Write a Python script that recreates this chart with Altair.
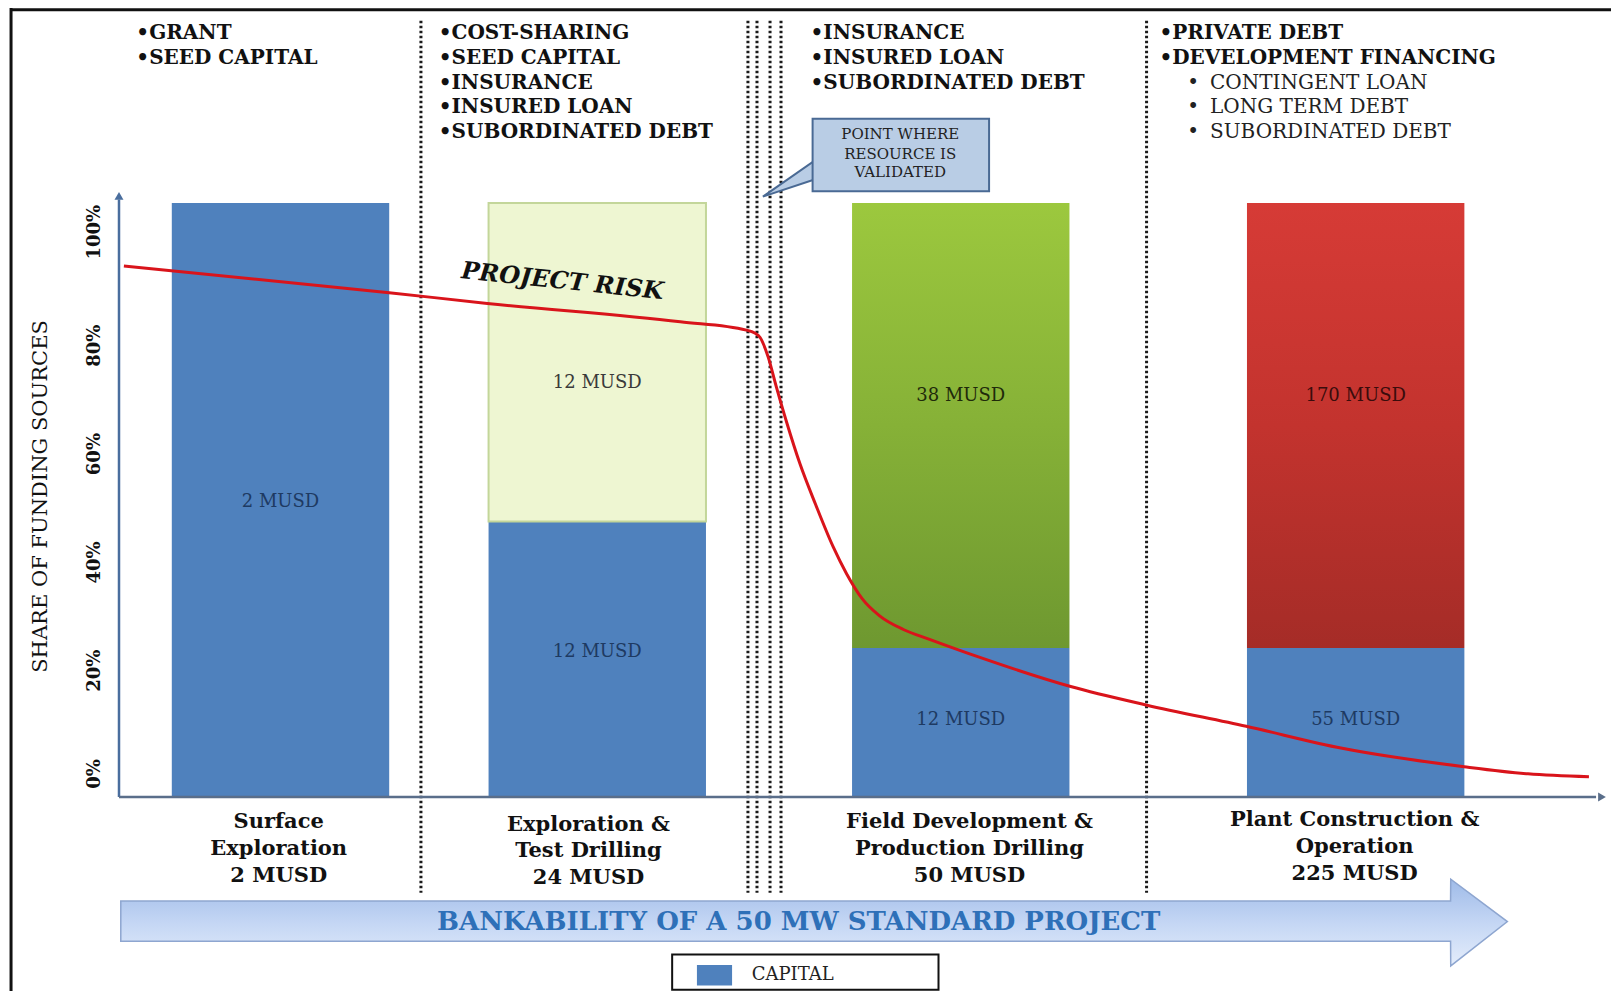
import altair as alt
import pandas as pd

# ---------------- data ----------------
stage_lines = [
    ["Surface", "Exploration", "2 MUSD"],
    ["Exploration &", "Test Drilling", "24 MUSD"],
    ["Field Development &", "Production Drilling", "50 MUSD"],
    ["Plant Construction &", "Operation", "225 MUSD"],
]
capital_share = [100.0, 46.4, 25.1, 25.1]      # % of funding that is capital
total_share = [100.0, 100.0, 100.0, 100.0]
capital_musd = ["2 MUSD", "12 MUSD", "12 MUSD", "55 MUSD"]
other_musd = ["", "12 MUSD", "38 MUSD", "170 MUSD"]

funding_bold = [
    ["GRANT", "SEED CAPITAL"],
    ["COST-SHARING", "SEED CAPITAL", "INSURANCE", "INSURED LOAN", "SUBORDINATED DEBT"],
    ["INSURANCE", "INSURED LOAN", "SUBORDINATED DEBT"],
    ["PRIVATE DEBT", "DEVELOPMENT FINANCING"],
]
funding_sub = ["CONTINGENT LOAN", "LONG TERM DEBT", "SUBORDINATED DEBT"]

risk_progress = [0.33, 18.22, 24.84, 37.85, 42.31, 42.87, 43.22, 43.77, 44.33, 45.03,
                 45.93, 46.98, 48.16, 49.06, 50.11, 51.29, 52.89, 54.70, 58.05, 64.17,
                 69.25, 76.01, 82.48, 90.70, 95.01, 99.12]
risk_level = [89.4, 84.9, 83.1, 80.0, 78.6, 78.1, 77.4, 74.1, 69.0, 63.0,
              56.0, 49.2, 42.1, 37.6, 33.4, 30.5, 28.2, 26.5, 23.5, 18.6,
              15.5, 11.9, 8.2, 5.1, 3.9, 3.4]

y_tick_text = ["0%", "20%", "40%", "60%", "80%", "100%"]
callout_lines = ["POINT WHERE", "RESOURCE IS", "VALIDATED"]
banner_text = "BANKABILITY OF A 50 MW STANDARD PROJECT"
risk_text = "PROJECT RISK"
y_title = "SHARE OF FUNDING SOURCES"
legend_text = "CAPITAL"

# ---------------- layout (positions in chart units) ----------------
X_DOMAIN = [-7.485, 100.607]
Y_DOMAIN = [-32.66, 132.83]
bar_center = [10.89, 32.25, 56.76, 83.39]
bar_half_width = 7.33
capital_label_y = [49.6, 24.4, 12.9, 12.9]
other_label_y = [0, 69.7, 67.5, 67.5]
stage_label_x = [10.77, 31.66, 57.35, 83.32]
stage_label_top = [-4.29, -4.64, -4.29, -3.94]
stage_line_gap = 4.52
list_col_x = [1.17, 21.56, 46.63, 70.16]
sub_bullet_x = 72.04
sub_text_x = 73.57
list_row_y = [128.62, 124.45, 120.28, 116.11, 111.94]
divider_x = [20.36, 42.41, 43.02, 43.90, 44.64, 69.29]
divider_span = [130.7, -16.1]
y_tick_pos = [3.87, 21.25, 39.50, 57.73, 75.98, 95.09]
FONT = "DejaVu Serif"

xs = alt.Scale(domain=X_DOMAIN, nice=False, zero=False)
ys = alt.Scale(domain=Y_DOMAIN, nice=False, zero=False)


def X(f):
    return alt.X(f, type="quantitative", scale=xs, axis=None)


def Y(f):
    return alt.Y(f, type="quantitative", scale=ys, axis=None)


def grad(c0, c1, c2=None):
    stops = [alt.GradientStop(color=c0, offset=0)]
    if c2 is not None:
        stops.append(alt.GradientStop(color=c1, offset=0.5))
        stops.append(alt.GradientStop(color=c2, offset=1))
    else:
        stops.append(alt.GradientStop(color=c1, offset=1))
    return alt.LinearGradient(gradient="linear", stops=stops, x1=0, x2=0, y1=0, y2=1)


layers = []

# outer frame
frame_v = pd.DataFrame({"x": [-7.28], "y": [Y_DOMAIN[0]], "y2": [Y_DOMAIN[1]]})
layers.append(alt.Chart(frame_v).mark_rule(color="#111", strokeWidth=3).encode(
    x=X("x"), y=Y("y"), y2="y2"))
frame_h = pd.DataFrame({"x": [-7.28], "x2": [X_DOMAIN[1]], "y": [132.55]})
layers.append(alt.Chart(frame_h).mark_rule(color="#111", strokeWidth=3).encode(
    x=X("x"), x2="x2", y=Y("y")))

# dotted dividers
div_df = pd.DataFrame({"x": divider_x, "y": [divider_span[0]] * len(divider_x),
                       "y2": [divider_span[1]] * len(divider_x)})
layers.append(alt.Chart(div_df).mark_rule(color="#1a1a1a", strokeWidth=3, strokeDash=[2.5, 2.5]).encode(
    x=X("x"), y=Y("y"), y2="y2"))

# bars
xl = [c - bar_half_width for c in bar_center]
xr = [c + bar_half_width for c in bar_center]
cap_df = pd.DataFrame({"x": xl, "x2": xr, "y": [0.0] * 4, "y2": capital_share})
layers.append(alt.Chart(cap_df).mark_rect(color="#4F81BD").encode(
    x=X("x"), x2="x2", y=Y("y"), y2="y2"))

oth = pd.DataFrame({"x": xl, "x2": xr, "y": capital_share, "y2": total_share})
layers.append(alt.Chart(oth.iloc[[1]]).mark_rect(color="#EEF6D2", stroke="#C3D69A", strokeWidth=2).encode(
    x=X("x"), x2="x2", y=Y("y"), y2="y2"))
layers.append(alt.Chart(oth.iloc[[2]]).mark_rect(color=grad("#9CC83E", "#86B137", "#6E9830")).encode(
    x=X("x"), x2="x2", y=Y("y"), y2="y2"))
layers.append(alt.Chart(oth.iloc[[3]]).mark_rect(color=grad("#D63B36", "#C3332E", "#A52C27")).encode(
    x=X("x"), x2="x2", y=Y("y"), y2="y2"))

# axis lines with arrowheads
layers.append(alt.Chart(pd.DataFrame({"x": [0.0], "y": [0.0], "y2": [100.6]})).mark_rule(
    color="#4A6E9E", strokeWidth=2.5).encode(x=X("x"), y=Y("y"), y2="y2"))
layers.append(alt.Chart(pd.DataFrame({"x": [0.0], "x2": [99.6], "y": [0.0]})).mark_rule(
    color="#5A6E8A", strokeWidth=2.5).encode(x=X("x"), x2="x2", y=Y("y")))
layers.append(alt.Chart(pd.DataFrame({"x": [0.0], "y": [101.2]})).mark_point(
    shape="triangle-up", filled=True, size=80, color="#4A6E9E", opacity=1).encode(x=X("x"), y=Y("y")))
layers.append(alt.Chart(pd.DataFrame({"x": [100.0], "y": [0.0]})).mark_point(
    shape="triangle-right", filled=True, size=80, color="#5A6E8A", opacity=1).encode(x=X("x"), y=Y("y")))

# bar value labels
cap_lab = pd.DataFrame({"x": bar_center, "y": capital_label_y, "t": capital_musd})
layers.append(alt.Chart(cap_lab).mark_text(font=FONT, fontSize=18, color="#1E3A62", baseline="middle").encode(
    x=X("x"), y=Y("y"), text="t:N"))
oth_lab = pd.DataFrame({"x": bar_center, "y": other_label_y, "t": other_musd,
                        "c": ["#000", "#3A3A3A", "#1F2A0A", "#3A0C0C"]}).iloc[1:]
layers.append(alt.Chart(oth_lab).mark_text(font=FONT, fontSize=18, baseline="middle").encode(
    x=X("x"), y=Y("y"), text="t:N", color=alt.Color("c:N", scale=None)))

# risk curve
risk_df = pd.DataFrame({"x": risk_progress, "y": risk_level})
layers.append(alt.Chart(risk_df).mark_line(color="#D9141B", strokeWidth=3, interpolate="monotone").encode(
    x=X("x"), y=Y("y")))
layers.append(alt.Chart(pd.DataFrame({"x": [29.9], "y": [86.75], "t": [risk_text]})).mark_text(
    font=FONT, fontSize=24, fontWeight="bold", fontStyle="italic", color="#111", angle=6,
    baseline="middle").encode(x=X("x"), y=Y("y"), text="t:N"))

# funding source lists
rows_b = []
for ci, items in enumerate(funding_bold):
    for ri, it in enumerate(items):
        rows_b.append({"x": list_col_x[ci], "y": list_row_y[ri], "t": "\u2022" + it})
layers.append(alt.Chart(pd.DataFrame(rows_b)).mark_text(
    font=FONT, fontSize=20, fontWeight="bold", color="#111", align="left", baseline="middle").encode(
    x=X("x"), y=Y("y"), text="t:N"))
rows_s = []
for ri, it in enumerate(funding_sub):
    rows_s.append({"x": sub_text_x, "y": list_row_y[ri + 2], "t": it})
layers.append(alt.Chart(pd.DataFrame(rows_s)).mark_text(
    font=FONT, fontSize=20, color="#222", align="left", baseline="middle").encode(
    x=X("x"), y=Y("y"), text="t:N"))
bul_s = pd.DataFrame({"x": [sub_bullet_x] * 3, "y": list_row_y[2:5], "t": ["\u2022"] * 3})
layers.append(alt.Chart(bul_s).mark_text(
    font=FONT, fontSize=20, color="#222", align="left", baseline="middle").encode(
    x=X("x"), y=Y("y"), text="t:N"))

# stage labels
rows_st = []
for si, lines in enumerate(stage_lines):
    for li, ln in enumerate(lines):
        rows_st.append({"x": stage_label_x[si], "y": stage_label_top[si] - li * stage_line_gap, "t": ln})
layers.append(alt.Chart(pd.DataFrame(rows_st)).mark_text(
    font=FONT, fontSize=21, fontWeight="bold", color="#111", baseline="middle").encode(
    x=X("x"), y=Y("y"), text="t:N"))

# y-axis tick labels and title
tick_df = pd.DataFrame({"x": [-1.62] * 6, "y": y_tick_pos, "t": y_tick_text})
layers.append(alt.Chart(tick_df).mark_text(
    font=FONT, fontSize=18, fontWeight="bold", color="#111", angle=270, baseline="middle").encode(
    x=X("x"), y=Y("y"), text="t:N"))
layers.append(alt.Chart(pd.DataFrame({"x": [-5.24], "y": [50.6], "t": [y_title]})).mark_text(
    font=FONT, fontSize=21, color="#111", angle=270, baseline="middle").encode(
    x=X("x"), y=Y("y"), text="t:N"))

# callout
tail = pd.DataFrame({"x": [43.42, 46.95], "y": [101.08, 107.2], "y2": [101.08, 104.0]})
layers.append(alt.Chart(tail).mark_area(color="#B9CDE5", stroke="#4A6A94", strokeWidth=2, opacity=1).encode(
    x=X("x"), y=Y("y"), y2="y2"))
box = pd.DataFrame({"x": [46.77], "x2": [58.67], "y": [102.0], "y2": [114.2]})
layers.append(alt.Chart(box).mark_rect(color="#B9CDE5", stroke="#4A6A94", strokeWidth=2).encode(
    x=X("x"), x2="x2", y=Y("y"), y2="y2"))
call_df = pd.DataFrame({"x": [52.68] * 3, "y": [111.59, 108.29, 105.17], "t": callout_lines})
layers.append(alt.Chart(call_df).mark_text(font=FONT, fontSize=15, color="#222", baseline="middle").encode(
    x=X("x"), y=Y("y"), text="t:N"))

# banner arrow
arrow = pd.DataFrame({"x": [0.12, 89.79, 89.80, 93.62],
                      "y": [-17.49, -17.49, -13.84, -20.97],
                      "y2": [-24.27, -24.27, -28.44, -20.97]})
layers.append(alt.Chart(arrow).mark_area(color=grad("#9FBBE8", "#C4D6F4", "#E4EDFB"),
                                         stroke="#8EA6D0", strokeWidth=1.5, opacity=1).encode(
    x=X("x"), y=Y("y"), y2="y2"))
layers.append(alt.Chart(pd.DataFrame({"x": [45.83], "y": [-20.97], "t": [banner_text]})).mark_text(
    font=FONT, fontSize=26, fontWeight="bold", color="#2E70B8", baseline="middle").encode(
    x=X("x"), y=Y("y"), text="t:N"))

# legend
leg_box = pd.DataFrame({"x": [37.30], "x2": [55.26], "y": [-26.53], "y2": [-32.45]})
layers.append(alt.Chart(leg_box).mark_rect(color="white", stroke="#111", strokeWidth=2).encode(
    x=X("x"), x2="x2", y=Y("y"), y2="y2"))
leg_sw = pd.DataFrame({"x": [38.97], "x2": [41.34], "y": [-28.27], "y2": [-31.74]})
layers.append(alt.Chart(leg_sw).mark_rect(color="#4F81BD").encode(
    x=X("x"), x2="x2", y=Y("y"), y2="y2"))
layers.append(alt.Chart(pd.DataFrame({"x": [42.66], "y": [-30.0], "t": [legend_text]})).mark_text(
    font=FONT, fontSize=18, color="#222", align="left", baseline="middle").encode(
    x=X("x"), y=Y("y"), text="t:N"))

chart = alt.layer(*layers).properties(
    width=1603, height=983, padding=0,
    autosize=alt.AutoSizeParams(type="none"),
    background="white",
).configure_view(stroke=None)

chart.save("out.html", embed_options={"renderer": "svg", "actions": False})
